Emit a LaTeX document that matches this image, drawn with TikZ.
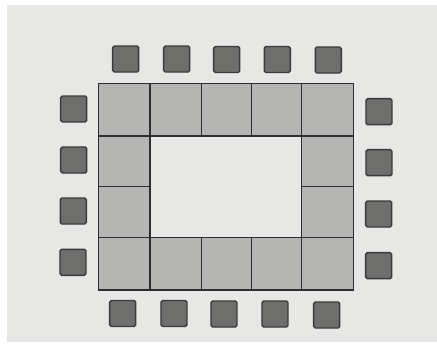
\documentclass[tikz,border=0pt]{standalone}
\begin{document}
\begin{tikzpicture}[x=0.75pt,y=-0.75pt]
\definecolor{paper}{HTML}{E7E7E5}
\definecolor{cellgray}{HTML}{B5B5B3}
\definecolor{chipfill}{HTML}{6E6E6C}
\definecolor{chipedge}{HTML}{3A3A3A}
\definecolor{gridline}{HTML}{2E2E2E}
\tikzset{
  chip/.style={draw=chipedge, fill=chipfill, line width=1.1pt, minimum size=19.5pt, inner sep=0pt, rounded corners=1.2pt},
  grid/.style={draw=gridline, line width=0.9pt}
}
\useasboundingbox (0,0) rectangle (437,350);
\fill[white] (0,0) rectangle (437,350);
\fill[paper] (7,5) rectangle (437,342);
% ring of cells
\fill[cellgray] (98.7,83.3) rectangle (353.3,290);
\fill[paper] (150,136) rectangle (301.7,237.3);
\draw[grid] (98.7,83.3) rectangle (353.3,290);
\draw[grid] (98.7,136) -- (353.3,136);
\draw[grid] (98.7,237.3) -- (353.3,237.3);
\draw[grid] (150,83.3) -- (150,290);
\draw[grid] (301.7,83.3) -- (301.7,290);
\foreach \x in {201.7,251.7} {
  \draw[grid] (\x,83.3) -- (\x,136);
  \draw[grid] (\x,237.3) -- (\x,290);
}
\draw[grid] (98.7,186.7) -- (150,186.7);
\draw[grid] (301.7,186.7) -- (353.3,186.7);
% chips
\node[chip] (t1) at (125.7,59) {};
\node[chip] (t2) at (176.7,59) {};
\node[chip] (t3) at (226.7,59.5) {};
\node[chip] (t4) at (277.3,59.5) {};
\node[chip] (t5) at (328.3,60) {};
\node[chip] (b1) at (122.7,313.5) {};
\node[chip] (b2) at (174,313.5) {};
\node[chip] (b3) at (224,314) {};
\node[chip] (b4) at (275,314) {};
\node[chip] (b5) at (326.7,315) {};
\node[chip] (l1) at (73.7,109) {};
\node[chip] (l2) at (73.7,160) {};
\node[chip] (l3) at (73.3,211) {};
\node[chip] (l4) at (73,262.3) {};
\node[chip] (r1) at (379,111.7) {};
\node[chip] (r2) at (379,162.7) {};
\node[chip] (r3) at (378.7,214) {};
\node[chip] (r4) at (378.7,265.7) {};
\end{tikzpicture}
\end{document}
